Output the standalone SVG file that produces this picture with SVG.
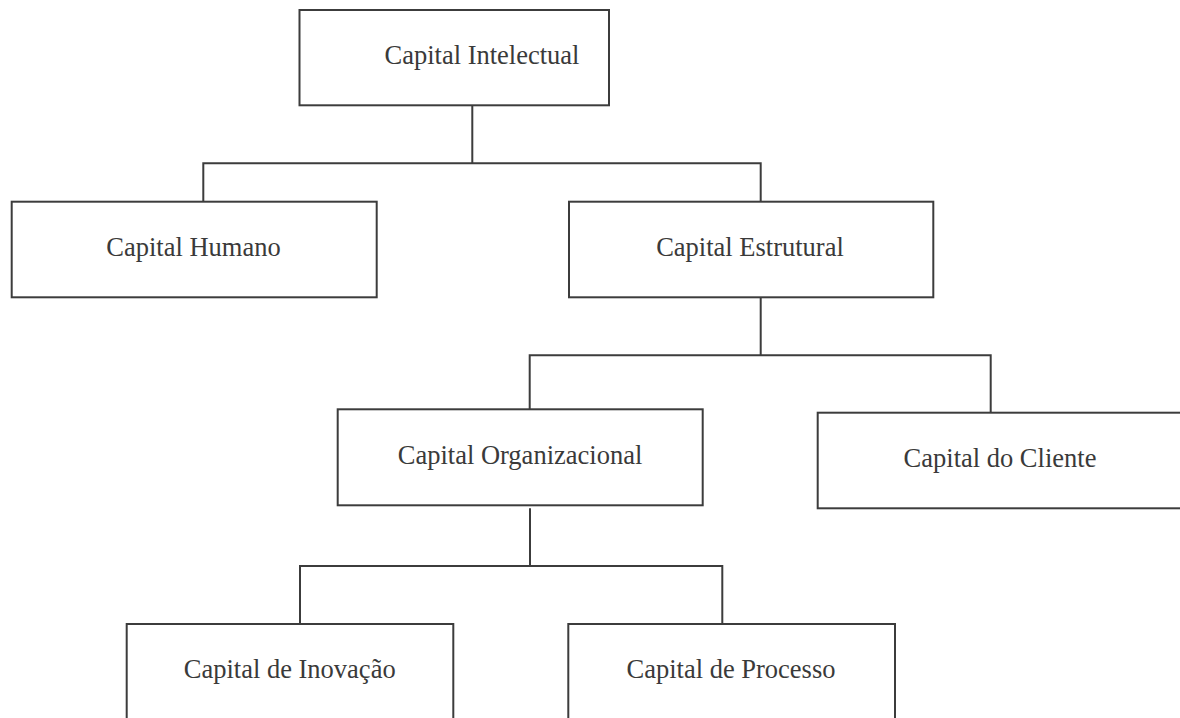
<svg xmlns="http://www.w3.org/2000/svg" width="1180" height="718" viewBox="0 0 1180 718">
<style>
.box{fill:#ffffff;stroke:#3c3c3c;stroke-width:2}
.lbl{font-family:"Liberation Serif","Times New Roman",serif;font-size:26.5px;fill:#3a3a3a;text-anchor:middle}
.con{fill:none;stroke:#3c3c3c;stroke-width:2}
</style>
<rect x="0" y="0" width="1180" height="718" fill="#ffffff"/>
<g id="connectors">
<path class="con" d="M472.3 105.3V163.3M203.3 201.7V163.3H760.7V201.7"/>
<path class="con" d="M760.7 297.3V355.3M529.7 412.7V355.3H990.7V412.7"/>
<path class="con" d="M530 508.3V566M300 624V566H722.3V624"/>
</g>
<g id="node-intelectual">
<rect class="box" x="299.5" y="10" width="309.5" height="95.3"/>
<text class="lbl" x="482" y="64">Capital Intelectual</text>
</g>
<g id="node-humano">
<rect class="box" x="11.7" y="201.7" width="365" height="95.6"/>
<text class="lbl" x="193.5" y="256">Capital Humano</text>
</g>
<g id="node-estrutural">
<rect class="box" x="569" y="201.7" width="364.3" height="95.6"/>
<text class="lbl" x="750" y="256">Capital Estrutural</text>
</g>
<g id="node-organizacional">
<rect class="box" x="337.7" y="409.3" width="365" height="96"/>
<text class="lbl" x="520" y="464">Capital Organizacional</text>
</g>
<g id="node-cliente">
<rect class="box" x="817.7" y="412.7" width="400" height="95.6"/>
<text class="lbl" x="1000" y="466.7">Capital do Cliente</text>
</g>
<g id="node-inovacao">
<rect class="box" x="126.7" y="624" width="326.6" height="120"/>
<text class="lbl" x="289.7" y="678.3">Capital de Inovação</text>
</g>
<g id="node-processo">
<rect class="box" x="568.3" y="624" width="326.7" height="120"/>
<text class="lbl" x="731" y="678.3">Capital de Processo</text>
</g>
</svg>
